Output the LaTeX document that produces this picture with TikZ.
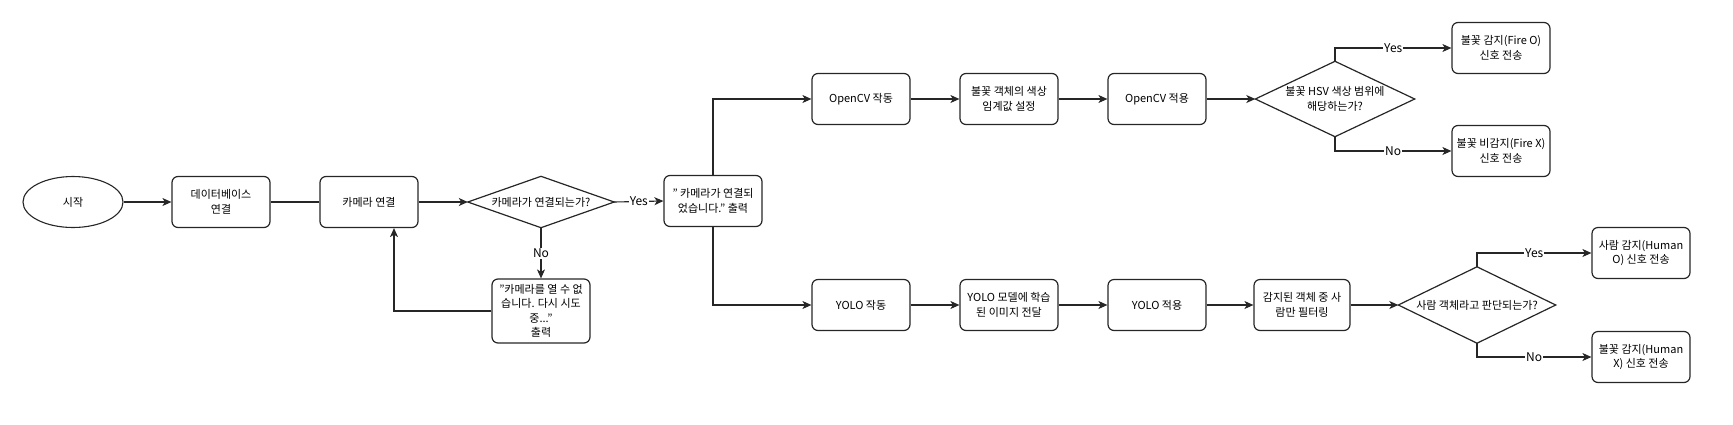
\documentclass[tikz,border=0pt]{standalone}
\usepackage{fontspec}
\setmainfont{Noto Sans CJK KR}
\usetikzlibrary{arrows.meta,shapes.geometric}
\begin{document}
\begin{tikzpicture}[x=1pt,y=-1pt,
  every node/.style={font=\fontsize{11}{14.5}\selectfont, align=center, text=black},
  box/.style={draw=black!85, line width=1.2pt, rounded corners=6pt, minimum width=98pt, minimum height=51pt, inner sep=1pt},
  term/.style={draw=black!85, line width=1.1pt, ellipse, minimum width=100pt, minimum height=51pt, inner sep=0pt},
  diabox/.style={draw=none, inner sep=0pt},
  diaedge/.style={draw=black!85, line width=1.2pt, line join=miter},
  conn/.style={draw=black!85, line width=1.1pt},
  arr/.style={conn, -{Stealth[length=9pt,width=8pt,inset=2.5pt]}},
  yn/.style={fill=white, inner sep=1pt, font=\fontsize{12}{14}\selectfont}
]
\useasboundingbox (0,0) rectangle (1733,424);

% left part
\node[term] (start) at (73,202) {시작};
\node[box] (db) at (221,202) {데이터베이스\\연결};
\node[box] (cam) at (369,202) {카메라 연결};
\node[diabox, minimum width=146pt, minimum height=51pt] (d1) at (541,202) {카메라가 연결되는가?};
\draw[diaedge] (d1.north) -- (d1.east) -- (d1.south) -- (d1.west) -- cycle;
\node[box] (ok) at (713,201) {" 카메라가 연결되\\었습니다." 출력};
\node[box, minimum height=64pt] (fail) at (541,311) {"카메라를 열 수 없\\습니다. 다시 시도\\중..."\\출력};

% OpenCV branch
\node[box] (cv1) at (861,99) {OpenCV 작동};
\node[box] (cv2) at (1009,99) {불꽃 객체의 색상\\임계값 설정};
\node[box] (cv3) at (1157,99) {OpenCV 적용};
\node[diabox, minimum width=159pt, minimum height=75pt] (d2) at (1335,99) {불꽃 HSV 색상 범위에\\해당하는가?};
\draw[diaedge] (d2.north) -- (d2.east) -- (d2.south) -- (d2.west) -- cycle;
\node[box] (fo) at (1501,48) {불꽃 감지(Fire O)\\신호 전송};
\node[box] (fx) at (1501,151) {불꽃 비감지(Fire X)\\신호 전송};

% YOLO branch
\node[box] (yo1) at (861,305) {YOLO 작동};
\node[box] (yo2) at (1009,305) {YOLO 모델에 학습\\된 이미지 전달};
\node[box] (yo3) at (1157,305) {YOLO 적용};
\node[box, minimum width=96pt] (filt) at (1302,305) {감지된 객체 중 사\\람만 필터링};
\node[diabox, minimum width=157pt, minimum height=76pt] (d3) at (1477,305) {사람 객체라고 판단되는가?};
\draw[diaedge] (d3.north) -- (d3.east) -- (d3.south) -- (d3.west) -- cycle;
\node[box] (ho) at (1641,253) {사람 감지(Human\\O) 신호 전송};
\node[box] (hx) at (1641,357) {불꽃 감지(Human\\X) 신호 전송};

% connectors
\draw[arr] (start) -- (db);
\draw[conn] (db) -- (cam);
\draw[arr] (cam) -- (d1.west);
\draw[arr] (d1.east) -- node[yn] {Yes} (ok.west);
\draw[arr] (d1.south) -- node[yn] {No} (fail.north);
\draw[arr] (fail.west) -| ([xshift=25pt]cam.south);

\draw[arr] (ok.north) |- (cv1.west);
\draw[arr] (ok.south) |- (yo1.west);

\draw[arr] (cv1) -- (cv2);
\draw[arr] (cv2) -- (cv3);
\draw[arr] (cv3) -- (d2.west);
\draw[arr] (d2.north) |- node[yn, pos=0.75] {Yes} (fo.west);
\draw[arr] (d2.south) |- node[yn, pos=0.75] {No} (fx.west);

\draw[arr] (yo1) -- (yo2);
\draw[arr] (yo2) -- (yo3);
\draw[arr] (yo3) -- (filt);
\draw[arr] (filt) -- (d3.west);
\draw[arr] (d3.north) |- node[yn, pos=0.75] {Yes} (ho.west);
\draw[arr] (d3.south) |- node[yn, pos=0.75] {No} (hx.west);
\end{tikzpicture}
\end{document}
